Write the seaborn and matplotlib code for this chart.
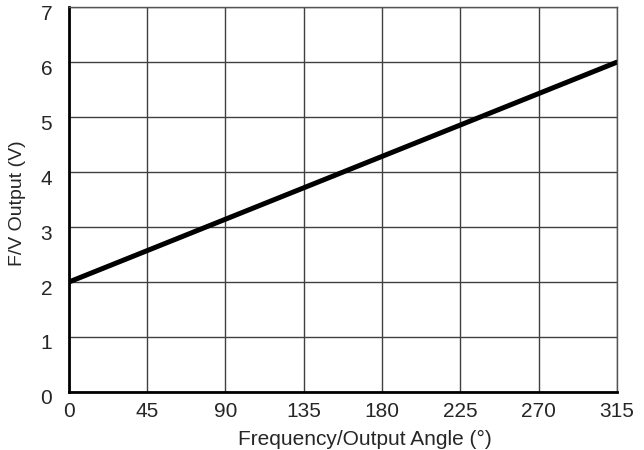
import numpy
import pandas
import seaborn
import matplotlib
matplotlib.use('Agg')
import matplotlib.pyplot as plt
import matplotlib.transforms as mtransforms

seaborn.set_style('white')
plt.rcParams['font.family'] = ['Liberation Sans', 'DejaVu Sans']

# frequency/output angle (deg) vs F/V output (V)
angle = [0, 315]
volts = [2, 6]
x_ticks = [0, 45, 90, 135, 180, 225, 270, 315]
y_ticks = [0, 1, 2, 3, 4, 5, 6, 7]

data = pandas.DataFrame({'angle': angle, 'volts': volts})

fig = plt.figure(figsize=(6.44, 4.5), dpi=100)
ax = fig.add_axes([0.107, 0.129, 0.851, 0.855])

seaborn.lineplot(data=data, x='angle', y='volts', color='black', linewidth=3.6, ax=ax)

ax.set_xlim(0, 315)
ax.set_ylim(0, 7)
ax.set_xticks(x_ticks)
ax.set_yticks(y_ticks)
ax.grid(True, color='#404040', linewidth=1)
ax.set_axisbelow(True)
ax.tick_params(length=0, labelsize=15)
ax.tick_params(axis='x', pad=7)
ax.tick_params(axis='y', pad=12)

# y tick labels sit a little below their grid lines in the reference
shift = mtransforms.ScaledTranslation(0, -5 / 100, fig.dpi_scale_trans)
for lab in ax.get_yticklabels():
    lab.set_transform(lab.get_transform() + shift)

for side in ['top', 'right']:
    ax.spines[side].set_color('#555555')
    ax.spines[side].set_linewidth(1)
for side in ['left', 'bottom']:
    ax.spines[side].set_color('black')
    ax.spines[side].set_linewidth(2)

ax.set_xlabel('Frequency/Output Angle (°)', fontsize=15)
ax.xaxis.set_label_coords(0.54, -0.1)
ax.set_ylabel('F/V Output (V)', fontsize=14)
ax.yaxis.set_label_coords(-0.078, 0.49)

fig.savefig('out.png', dpi=100)
